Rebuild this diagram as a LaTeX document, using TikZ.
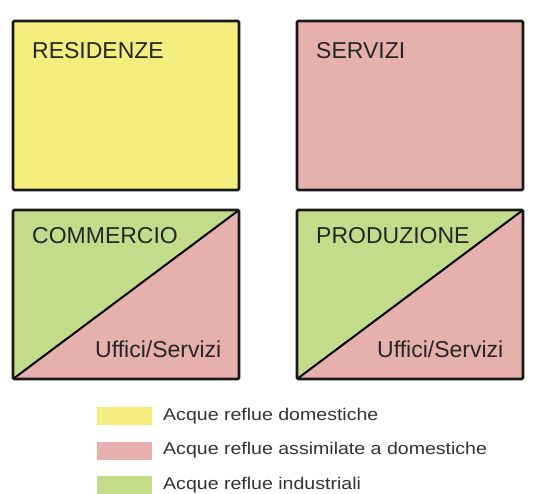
\documentclass[tikz,border=0pt]{standalone}
\usepackage{fontspec}
\setmainfont{Liberation Sans}
\newfontfamily\legfont[FakeStretch=1.15]{Liberation Sans}
\usetikzlibrary{positioning}
\definecolor{resyellow}{HTML}{F3EE7E}
\definecolor{servpink}{HTML}{E6B1AC}
\definecolor{indgreen}{HTML}{C3DC8B}
\tikzset{area/.style={minimum width=226pt, minimum height=169pt, outer sep=0pt,
  inner sep=0pt, anchor=north west}}
\tikzset{frame/.style={draw=black!90, line width=2.6pt, rounded corners=1.2pt}}
\tikzset{l/.style={font=\fontsize{23}{23}\selectfont, text=black!85, inner sep=0pt,
  anchor=base west}}
\tikzset{m/.style={font=\legfont\fontsize{17}{17}\selectfont, text=black!80,
  inner sep=0pt, anchor=west}}
\tikzset{swatch/.style={minimum width=55pt, minimum height=18pt, inner sep=0pt,
  outer sep=0pt}}
\newcommand{\halfarea}[1]{
  \fill[indgreen] (#1.south west) -- (#1.north west) -- (#1.north east) -- cycle;
  \fill[servpink] (#1.south west) -- (#1.south east) -- (#1.north east) -- cycle;
  \draw[line width=2pt] (#1.south west) -- (#1.north east);
  \draw[frame] (#1.south west) rectangle (#1.north east);
}

\begin{document}
\begin{tikzpicture}[x=1pt, y=-1pt]
    \useasboundingbox[fill=white] (0,0) rectangle (545,494);
    % upper row
    \node[area, frame, fill=resyellow] (res) at (13,21) {};
    \node[area, frame, fill=servpink] (ser) at (297,21) {};
    \node[l] at (32,59) {RESIDENZE};
    \node[l] at (316,59) {SERVIZI};
    % lower row
    \node[area] (com) at (13,210) {};
    \node[area] (pro) at (297,210) {};
    \halfarea{com}
    \halfarea{pro}
    \node[l] at (32,243) {COMMERCIO};
    \node[l] at (316,243) {PRODUZIONE};
    \node[l] at (95,357) {Uffici/Servizi};
    \node[l] at (377,357) {Uffici/Servizi};
    % legend
    \node[swatch, fill=resyellow] (s1) at (124.5,416) {};
    \node[swatch, fill=servpink] (s2) at (124.5,450.5) {};
    \node[swatch, fill=indgreen] (s3) at (124.5,485) {};
    \node[m, right=11pt of s1] (t1) {Acque reflue domestiche};
    \node[m, right=11pt of s2] (t2) {Acque reflue assimilate a domestiche};
    \node[m, right=11pt of s3] (t3) {Acque reflue industriali};
\end{tikzpicture}
\end{document}
